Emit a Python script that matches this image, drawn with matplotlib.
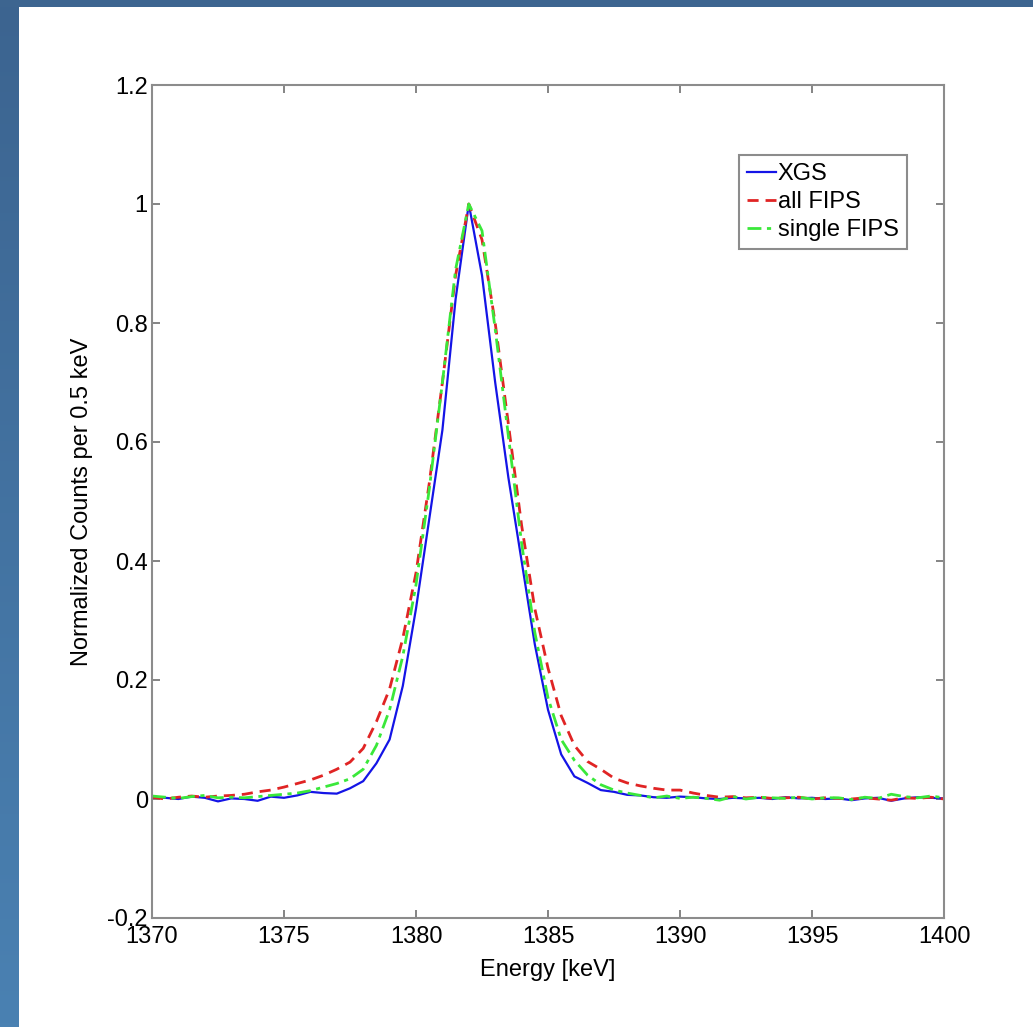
import numpy as np
import matplotlib.pyplot as plt

plt.rcParams['font.family'] = ['Liberation Sans', 'DejaVu Sans']

# energy grid, 0.5 keV bins
energy = np.arange(1370, 1400.5, 0.5)

# XGS
xgs = [0.003, 0.002, 0.000, 0.004, 0.002, -0.004, 0.001, 0.000, -0.003, 0.004,
       0.002, 0.006, 0.012, 0.010, 0.009, 0.018, 0.030, 0.060, 0.100, 0.190,
       0.320, 0.470, 0.620, 0.840, 1.000, 0.880, 0.700, 0.540, 0.400, 0.260,
       0.150, 0.075, 0.038, 0.027, 0.015, 0.012, 0.007, 0.006, 0.003, 0.002,
       0.004, 0.003, 0.001, 0.000, 0.002, 0.001, 0.002, 0.000, 0.003, 0.001,
       0.002, 0.000, 0.001, -0.002, 0.001, 0.002, -0.003, 0.001, 0.003, 0.002,
       0.001]

# all FIPS
all_fips = [0.003, 0.000, 0.003, 0.005, 0.003, 0.005, 0.006, 0.008, 0.012, 0.015,
            0.020, 0.026, 0.032, 0.040, 0.050, 0.062, 0.085, 0.130, 0.185, 0.270,
            0.380, 0.530, 0.700, 0.880, 1.000, 0.940, 0.800, 0.630, 0.460, 0.320,
            0.220, 0.140, 0.090, 0.063, 0.050, 0.035, 0.027, 0.022, 0.018, 0.015,
            0.015, 0.010, 0.006, 0.003, 0.004, 0.002, 0.003, 0.001, 0.002, 0.003,
            0.000, 0.002, 0.001, 0.000, 0.002, 0.000, -0.002, 0.002, 0.001, 0.003,
            0.000]

# single FIPS
single_fips = [0.005, 0.003, 0.001, 0.004, 0.006, 0.002, 0.003, 0.002, 0.004, 0.006,
               0.008, 0.010, 0.014, 0.020, 0.026, 0.034, 0.050, 0.090, 0.150, 0.240,
               0.360, 0.520, 0.700, 0.890, 1.000, 0.955, 0.790, 0.610, 0.430, 0.280,
               0.170, 0.100, 0.065, 0.040, 0.024, 0.015, 0.010, 0.006, 0.002, 0.005,
               0.001, 0.003, 0.001, -0.002, 0.004, 0.000, 0.003, 0.002, 0.001, 0.003,
               0.000, 0.002, 0.002, -0.001, 0.003, 0.001, 0.008, 0.004, 0.002, 0.005,
               0.002]

fig = plt.figure(figsize=(10.33, 10.27), dpi=100)
fig.patch.set_facecolor('white')

# blue slide frame
left_strip = fig.add_axes([0, 0, 19 / 1033, 1])
left_strip.imshow(np.linspace(0, 1, 256).reshape(-1, 1), aspect='auto', extent=[0, 1, 0, 1],
                  cmap=plt.matplotlib.colors.LinearSegmentedColormap.from_list('f', ['#3c6490', '#4a81b2']))
left_strip.axis('off')
top_strip = fig.add_axes([0, 1 - 7 / 1027, 1, 7 / 1027])
top_strip.set_facecolor('#3d6590')
top_strip.set_xticks([])
top_strip.set_yticks([])
for s in top_strip.spines.values():
    s.set_visible(False)

ax = fig.add_axes([152 / 1033, 1 - 918 / 1027, 792 / 1033, 833 / 1027])
ax.plot(energy, xgs, '-', color='#1414e6', lw=1.6, label='XGS')
ax.plot(energy, all_fips, '--', color='#e02424', lw=2.0, label='all FIPS', dashes=(4, 2.5))
ax.plot(energy, single_fips, '-.', color='#3ae83a', lw=2.0, label='single FIPS', dashes=(5, 2, 1.5, 2))

ax.set_xlim(1370, 1400)
ax.set_ylim(-0.2, 1.2)
ax.set_xticks(np.arange(1370, 1401, 5))
ax.set_yticks(np.round(np.arange(-0.2, 1.21, 0.2), 1))
ax.set_yticklabels(['-0.2', '0', '0.2', '0.4', '0.6', '0.8', '1', '1.2'])
ax.tick_params(direction='in', length=6, width=1.2, color='#707070', labelsize=17,
               top=True, right=True, pad=3)
ax.tick_params(axis='x', pad=6)
for s in ax.spines.values():
    s.set_color('#8c8c8c')
    s.set_linewidth(1.5)
ax.set_xlabel('Energy [keV]', fontsize=17, labelpad=8)
ax.set_ylabel('Normalized Counts per 0.5 keV', fontsize=17, labelpad=10)

leg = ax.legend(loc='upper right', bbox_to_anchor=(907 / 1033, 1 - 155 / 1027),
                bbox_transform=fig.transFigure, fontsize=17, fancybox=False,
                framealpha=1, edgecolor='#8c8c8c', handlelength=1.2, handletextpad=0.1,
                labelspacing=0.25, borderpad=0.35, borderaxespad=0)
leg.get_frame().set_linewidth(1.5)

fig.savefig('out.png', dpi=100)
